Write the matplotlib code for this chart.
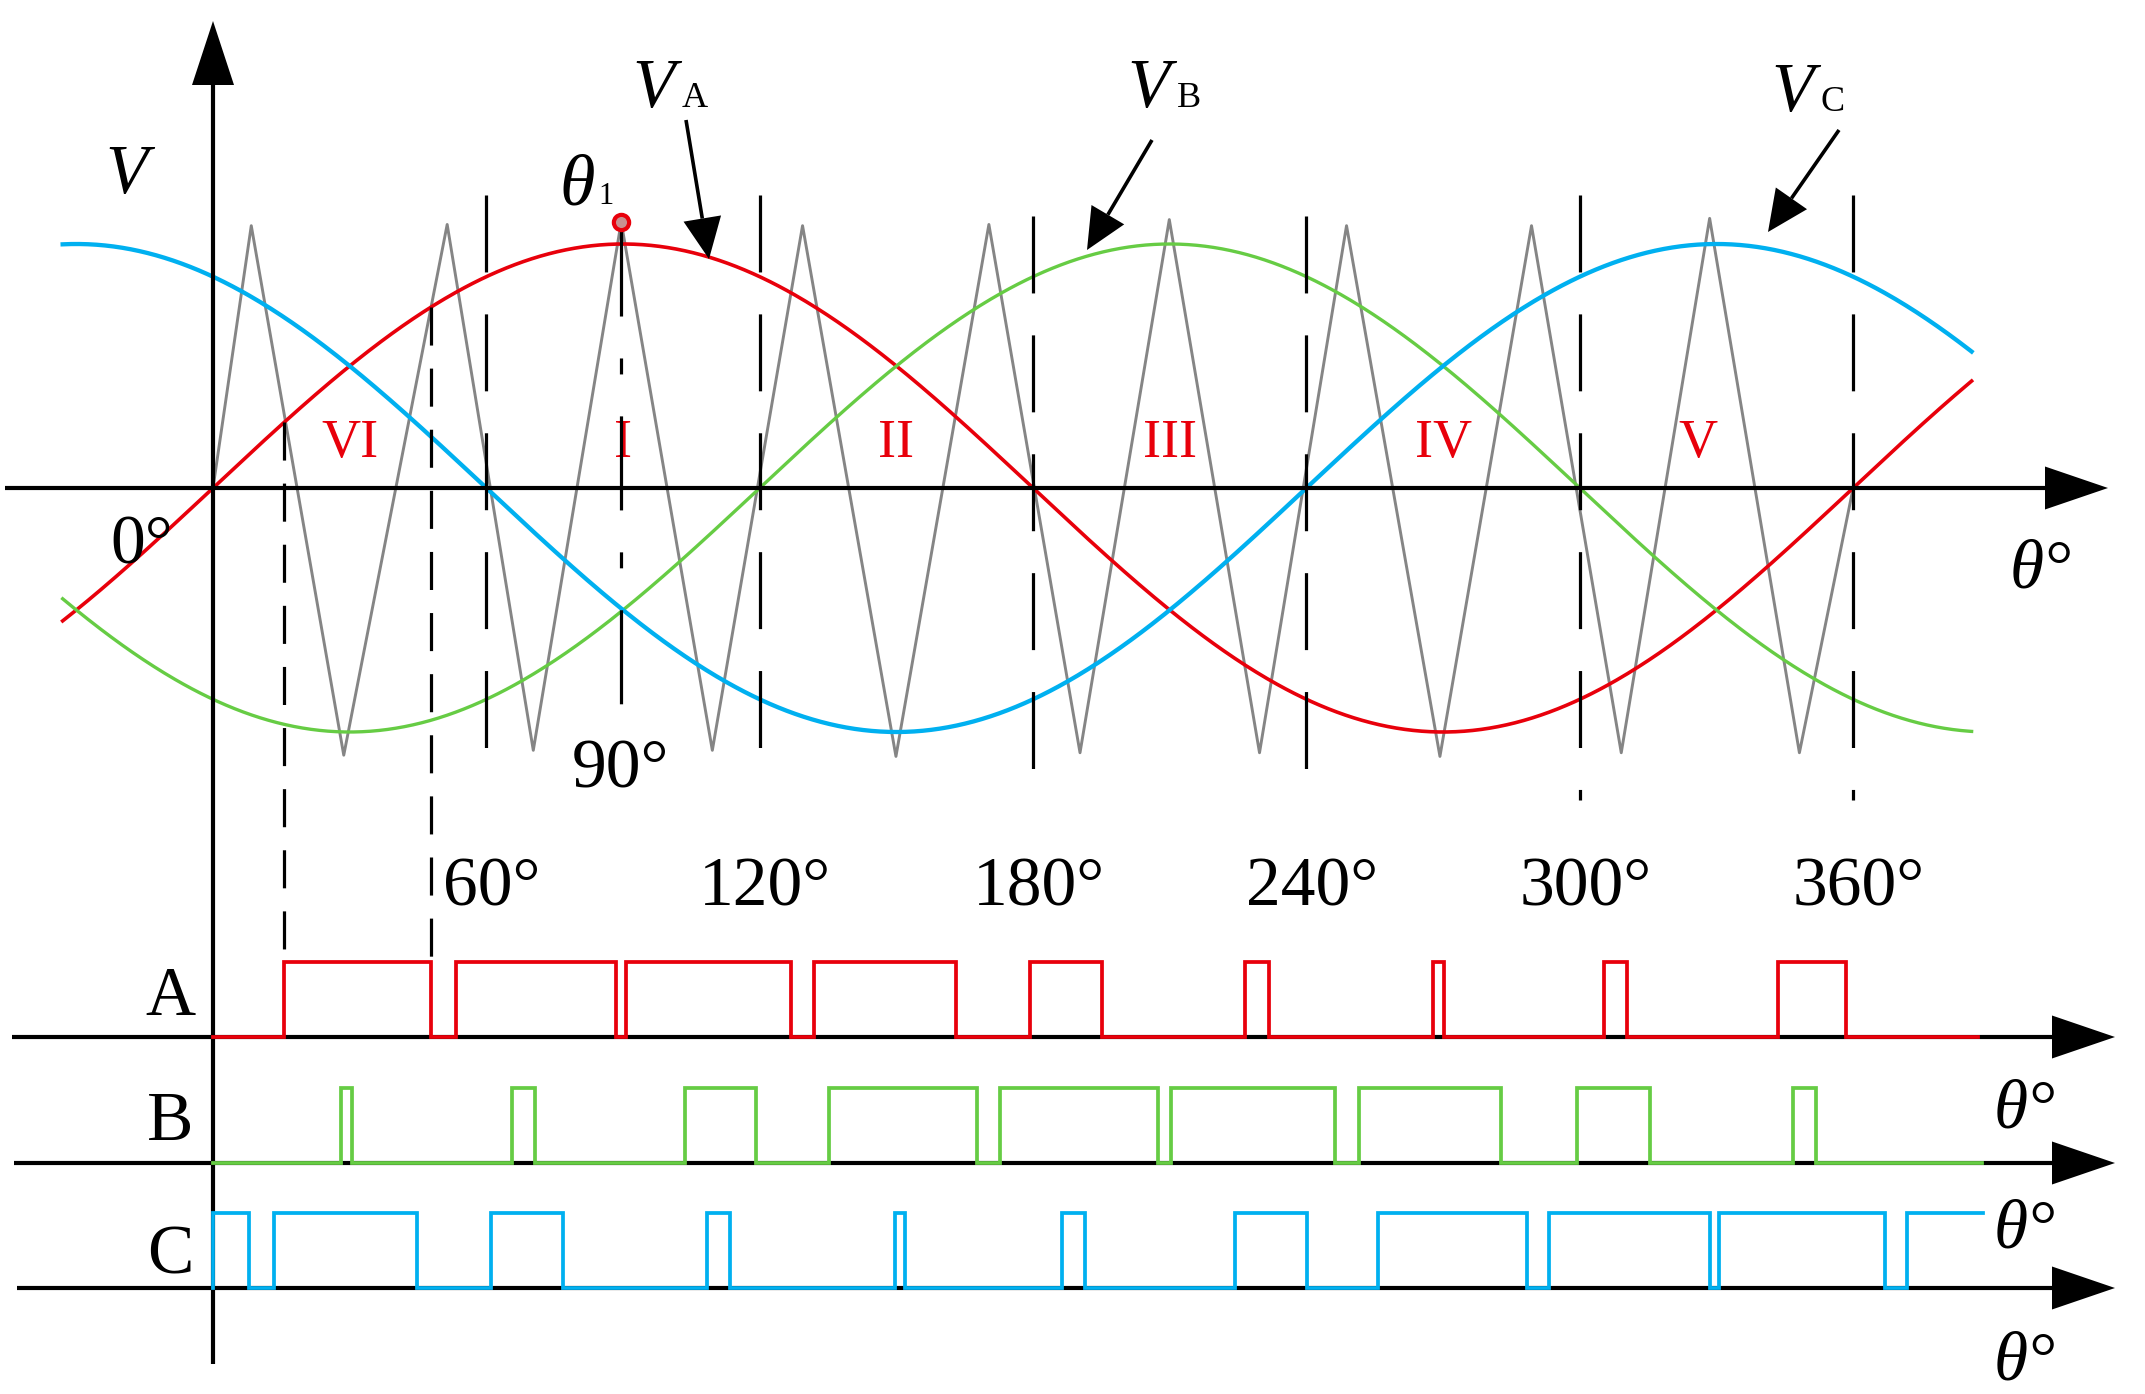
import numpy as np
import matplotlib
matplotlib.use("Agg")
import matplotlib.pyplot as plt

plt.rcParams['font.family'] = ['Liberation Serif', 'DejaVu Serif']
plt.rcParams['lines.scale_dashes'] = False

# ---- values (angles in degrees) ----
phase_names = ['A', 'B', 'C']
phase_shift = [0, 120, 240]
sine_span = [-33, 386]

tri_angle = [0, 8.4, 28.7, 51.4, 70.3, 89.6, 109.6, 129.4, 149.9, 170.3,
             190.3, 209.9, 229.7, 248.8, 269.3, 289.4, 309.1, 328.5, 348.2, 360]
tri_value = [0, 1.075, -1.095, 1.08, -1.075, 1.09, -1.075, 1.075, -1.10, 1.08,
             -1.085, 1.10, -1.085, 1.075, -1.10, 1.075, -1.085, 1.105, -1.085, 0]

sector_edges = [60, 120, 180, 240, 300, 360]
sector_names = ['VI', 'I', 'II', 'III', 'IV', 'V']
sector_label_at = [30, 90, 150, 210, 270, 326]
theta1 = 89.6

pulses_a = [(15.6, 47.8), (53.3, 88.5), (90.6, 126.9), (131.9, 163.1), (179.3, 195.2),
            (226.6, 231.7), (267.7, 270.3), (305.3, 310.3), (343.6, 358.5)]
pulses_b = [(28.1, 30.6), (65.6, 70.7), (103.7, 119.1), (135.3, 167.8), (172.7, 207.5),
            (210.2, 246.2), (251.6, 282.6), (299.4, 315.5), (346.9, 351.9)]
pulses_c = [(0, 7.9), (13.3, 44.8), (61.0, 76.9), (108.4, 113.4), (149.6, 151.9),
            (186.4, 191.4), (224.3, 240.1), (255.7, 288.4), (293.3, 328.6),
            (330.6, 366.9), (371.9, 388.4)]
pulse_end = [387.3, 388.3, 388.4]

# ---- layout (pixels of the 2145x1394 picture) ----
W, H = 2145, 1394
X0, PX_DEG = 213, 4.556
Y0, PX_AMP = 488, 244

red, green, blue, gray = '#e8000b', '#66cc44', '#00b0f0', '#858585'
colors = [red, green, blue]


def dx(px):
    return (px - X0) / PX_DEG


def dy(py):
    return (Y0 - py) / PX_AMP


fig = plt.figure(figsize=(W / 100, H / 100), dpi=100)
ax = fig.add_axes([0, 0, 1, 1])
ax.set_xlim(dx(0), dx(W))
ax.set_ylim(dy(H), dy(0))
ax.axis('off')


def arrow(x0, y0, x1, y1, lw=3.0, head=(63, 43), z=5):
    # pixel coords, filled triangular head
    L, wd = head
    v = np.array([x1 - x0, y1 - y0], float)
    u = v / np.hypot(*v)
    p = np.array([-u[1], u[0]])
    tip = np.array([x1, y1], float)
    base = tip - L * u
    ax.plot([dx(x0), dx(base[0])], [dy(y0), dy(base[1])], color='k', lw=lw,
            solid_capstyle='butt', zorder=z)
    pts = [tip, base + wd / 2 * p, base - wd / 2 * p]
    ax.fill([dx(q[0]) for q in pts], [dy(q[1]) for q in pts], color='k', lw=0, zorder=z)


def label(x, y, s, size=50, ha='left', **kw):
    ax.text(dx(x), dy(y), s, fontsize=size, ha=ha, va='baseline', **kw)


# axes
arrow(5, Y0, 2108, Y0)
arrow(213, 1364, 213, 21, head=(64, 42))
rows = [(1037, 962), (1163, 1088), (1288, 1213)]
row_start = [12, 14, 17]
for (base, high), x_start in zip(rows, row_start):
    arrow(x_start, base, 2115, base)

# carrier and references
ax.plot(tri_angle, tri_value, color=gray, lw=2.1, zorder=2)
theta = np.linspace(sine_span[0], sine_span[1], 900)
for shift, col, lw in zip(phase_shift, colors, [2.6, 2.4, 3.1]):
    ax.plot(theta, np.sin(np.radians(theta - shift)), color=col, lw=lw, zorder=3)

# sector boundaries
line_top = [195, 195, 216, 216, 195, 195]
line_bot = [753, 753, 776, 776, 800, 800]
for a, t, b in zip(sector_edges, line_top, line_bot):
    ax.plot([a, a], [dy(t), dy(b)], color='k', lw=2.3, linestyle=(0, (55.4, 30.2)), zorder=4)

# projection of the first A pulse
for a in pulses_a[0]:
    ax.plot([a, a], [np.sin(np.radians(a)), dy(rows[0][1])], color='k', lw=2.3,
            linestyle=(0, (27.4, 16.6)), zorder=4)

# theta1 mark
peak = tri_value[tri_angle.index(theta1)]
ax.plot([theta1, theta1], [peak, dy(713)], color='k', lw=2.3,
        linestyle=(0, (67.7, 30.2, 11.5, 30.2)), zorder=4)
ax.plot(theta1, peak, 'o', ms=11, mec=red, mfc='#c89090', mew=3, zorder=6)

# switching signals
for pulses, end, (base, high), col in zip([pulses_a, pulses_b, pulses_c], pulse_end, rows, colors):
    b, h = dy(base), dy(high)
    xs, ys = [0], [b]
    for s, e in pulses:
        xs += [s, s]
        ys += [b, h]
        if e >= end:
            xs.append(end)
            ys.append(h)
            break
        xs += [e, e]
        ys += [h, b]
    else:
        xs.append(end)
        ys.append(b)
    ax.plot(xs, ys, color=col, lw=2.7, solid_joinstyle='miter', zorder=6)

# texts
for name, a in zip(sector_names, sector_label_at):
    ax.text(a, dy(457), name, color=red, fontsize=39, ha='center', va='baseline')

for a in sector_edges:
    ax.text(a + 1.2, dy(906), f'{a}°', fontsize=50, ha='center', va='baseline')

label(105, 193, 'V', style='italic')
label(110, 564, '0°')
label(572, 788, '90°')
label(2010, 588, 'θ°', style='italic')

label(559, 205, 'θ', size=52, style='italic')
label(598, 204, '1', size=22)

sub_pos = [(632, 682, 107), (1127, 1177, 107), (1771, 1821, 111)]
for name, (xv, xs_, yb) in zip(phase_names, sub_pos):
    label(xv, yb, 'V', style='italic')
    label(xs_, yb, name, size=26)

arrow(686, 120, 709, 259, lw=2.6, head=(41, 38))
arrow(1152, 140, 1087, 250, lw=2.6, head=(41, 38))
arrow(1839, 130, 1768, 232, lw=2.6, head=(41, 38))

row_label_y = [1015, 1140, 1273]
for name, y in zip(phase_names, row_label_y):
    label(170, y, name, ha='center')

for y in [1128, 1247, 1380]:
    label(1994, y, 'θ°', style='italic')

fig.savefig('out.png', dpi=100)
